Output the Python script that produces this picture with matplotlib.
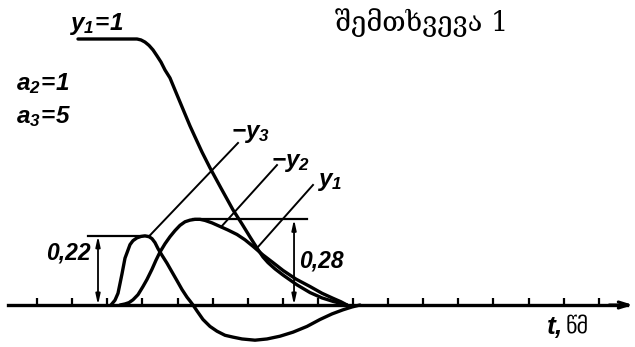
import numpy as np
import matplotlib.pyplot as plt

# time axis in tick units, responses in fractions of y1 steady value
t_y1 = [2.165, 3.846, 3.960, 4.074, 4.188, 4.302, 4.416, 4.530, 4.644, 4.786, 4.929,
        5.071, 5.214, 5.356, 5.499, 5.698, 5.926, 6.239, 6.581, 6.838, 7.066, 7.265,
        7.436, 7.578, 7.778, 8.006, 8.405, 8.775, 9.117, 9.430, 9.658, 9.829]
y1 = [1.0, 1.0, 0.996, 0.987, 0.973, 0.954, 0.929, 0.903, 0.870, 0.837, 0.787,
      0.738, 0.689, 0.641, 0.597, 0.537, 0.475, 0.397, 0.315, 0.263, 0.216, 0.177,
      0.146, 0.127, 0.106, 0.086, 0.055, 0.032, 0.017, 0.008, 0.003, 0.0]

t_y2 = [3.362, 3.504, 3.618, 3.732, 3.875, 4.017, 4.131, 4.274, 4.387, 4.501, 4.644,
        4.786, 4.929, 5.071, 5.214, 5.356, 5.499, 5.641, 5.783, 5.983, 6.211, 6.439,
        6.695, 6.923, 7.151, 7.436, 7.721, 8.006, 8.376, 8.775, 9.117, 9.430, 9.658, 9.829]
neg_y2 = [0.0, 0.002, 0.005, 0.012, 0.026, 0.050, 0.072, 0.105, 0.135, 0.163, 0.192,
          0.217, 0.239, 0.258, 0.271, 0.277, 0.28, 0.28, 0.276, 0.267, 0.254, 0.241,
          0.225, 0.206, 0.183, 0.153, 0.127, 0.101, 0.073, 0.050, 0.030, 0.016, 0.007, 0.0]

t_y3 = [3.105, 3.219, 3.305, 3.362, 3.419, 3.504, 3.575, 3.647, 3.732, 3.846, 3.960,
        4.074, 4.188, 4.274, 4.359, 4.444, 4.558, 4.701, 4.843, 4.986, 5.128, 5.271,
        5.356, 5.442, 5.556, 5.726, 5.926, 6.125, 6.353, 6.581, 6.838, 7.208, 7.550,
        7.920, 8.291, 8.689, 9.060, 9.402, 9.715, 9.972, 10.199]
neg_y3 = [0.0, 0.011, 0.030, 0.059, 0.090, 0.142, 0.165, 0.189, 0.203, 0.213, 0.218,
          0.22, 0.217, 0.210, 0.196, 0.175, 0.152, 0.125, 0.096, 0.068, 0.041, 0.019,
          0.009, 0.0, -0.014, -0.038, -0.059, -0.074, -0.087, -0.093, -0.099, -0.103, -0.099,
          -0.090, -0.077, -0.059, -0.038, -0.022, -0.011, -0.004, 0.0]

peak_y3 = 0.22
peak_y2 = 0.28
ticks = list(range(1, 18))

plt.rcParams['mathtext.fontset'] = 'custom'
plt.rcParams['mathtext.it'] = 'Liberation Sans:italic:bold'
plt.rcParams['mathtext.rm'] = 'Liberation Sans:italic:bold'
plt.rcParams['mathtext.bf'] = 'Liberation Sans:italic:bold'

# slightly compressive vertical scale so small deviations read clearly next to y1
P = 0.89
def fwd(v):
    v = np.asarray(v, dtype=float)
    return np.sign(v) * np.abs(v) ** P
def inv(u):
    u = np.asarray(u, dtype=float)
    return np.sign(u) * np.abs(u) ** (1 / P)

fig = plt.figure(figsize=(6.35, 3.47), dpi=100)
ax = fig.add_axes([0, 0, 1, 1])
ax.set_yscale('function', functions=(fwd, inv))
ax.set_xlim(-2 / 35.1, 633 / 35.1)
ax.set_ylim(float(inv(-42 / 266)), float(inv(305 / 266)))

# time axis with upward ticks and arrow
for s in ['top', 'right', 'left']:
    ax.spines[s].set_visible(False)
ax.spines['bottom'].set_position(('data', 0))
ax.spines['bottom'].set_linewidth(2.4)
ax.spines['bottom'].set_bounds(0.17, 17.8)
ax.set_xticks(ticks)
ax.set_yticks([])
ax.tick_params(axis='x', direction='in', length=5, width=1.6, labelbottom=False)
ax.annotate('', xy=(17.98, 0), xytext=(17.3, 0),
            arrowprops=dict(arrowstyle='->,head_length=0.7,head_width=0.22', lw=2.2,
                            color='black', shrinkA=0, shrinkB=0))

kw = dict(color='black', lw=2.4, solid_capstyle='round', solid_joinstyle='round')
ax.plot(t_y1, y1, **kw)
ax.plot(t_y2, neg_y2, **kw)
ax.plot(t_y3, neg_y3, **kw)

# peak levels with dimension arrows
ax.plot([2.45, 4.22], [peak_y3, peak_y3], color='black', lw=1.6)
ax.annotate('', xy=(2.735, peak_y3), xytext=(2.735, 0),
            arrowprops=dict(arrowstyle='<|-|>,head_length=0.6,head_width=0.13', lw=1.3,
                            color='black', shrinkA=0, shrinkB=0))
ax.plot([5.44, 8.69], [peak_y2, peak_y2], color='black', lw=1.6)
ax.annotate('', xy=(8.32, peak_y2), xytext=(8.32, 0),
            arrowprops=dict(arrowstyle='<|-|>,head_length=0.6,head_width=0.13', lw=1.3,
                            color='black', shrinkA=0, shrinkB=0))

# leader lines to curve labels
lead = dict(color='black', lw=1.4)
ax.plot([6.724, 4.20], [0.573, 0.22], **lead)
ax.plot([7.835, 6.24], [0.486, 0.252], **lead)
ax.plot([8.860, 7.265], [0.409, 0.177], **lead)

lab = dict(transform=ax.transAxes, fontsize=17.5, va='center', ha='left')
ax.text(69 / 635, 1 - 24 / 347, r'$y_1\!=\!1$', **lab)
ax.text(16 / 635, 1 - 84 / 347, r'$a_2\!=\!1$', **lab)
ax.text(16 / 635, 1 - 117 / 347, r'$a_3\!=\!5$', **lab)
ax.text(231 / 635, 1 - 133 / 347, r'$-y_3$', **lab)
ax.text(271 / 635, 1 - 162 / 347, r'$-y_2$', **lab)
ax.text(317 / 635, 1 - 181 / 347, r'$y_1$', **lab)

num = dict(transform=ax.transAxes, fontsize=16.5, va='center', family='Liberation Sans',
           style='italic', weight='bold')
ax.text(91 / 635, 1 - 253 / 347, '0,22', ha='right', **num)
ax.text(299 / 635, 1 - 261 / 347, '0,28', ha='left', **num)

ax.text(335 / 635, 1 - 23 / 347, 'შემთხვევა 1', transform=ax.transAxes, fontsize=19.5,
        va='center', ha='left', family=['DejaVu Serif', 'DejaVu Sans'])
ax.text(546 / 635, 1 - 327 / 347, r'$t,$', transform=ax.transAxes, fontsize=19,
        va='center', ha='left')
ax.text(566 / 635, 1 - 327 / 347, 'წმ', transform=ax.transAxes, fontsize=16,
        va='center', ha='left', family=['DejaVu Sans'])

fig.savefig('out.png', dpi=100)
